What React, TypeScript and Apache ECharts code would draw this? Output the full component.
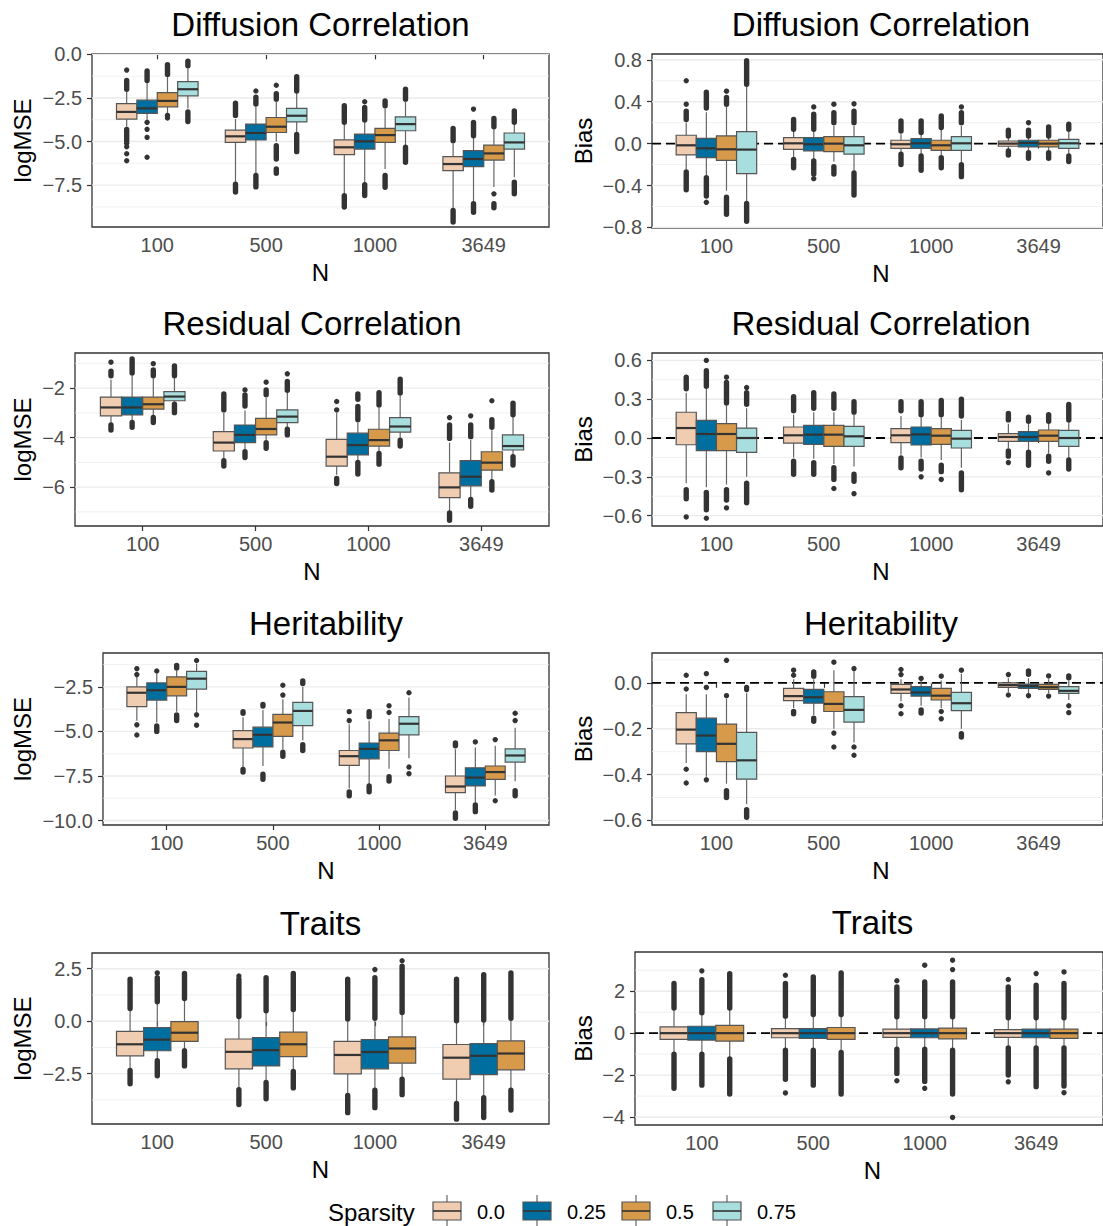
import React, { useEffect, useRef } from "react";
import * as echarts from "echarts";

const categories = ["100", "500", "1000", "3649"];
const sparsityLevels = ["0.0", "0.25", "0.5", "0.75"];
const sparsityColors = ["#F0CCB0", "#006FA0", "#D69A4A", "#A8DEDE"];

type Out = (number | [number, number])[];

// box stats: [lowerWhisker, q1, median, q3, upperWhisker]; rows = sparsity, cols = N
const diffMseStats = [
  [[-4.15, -3.71, -3.3, -2.82, -2.1], [-7.4, -5.05, -4.7, -4.34, -3.7], [-8.0, -5.75, -5.33, -4.9, -4.0], [-8.86, -6.67, -6.29, -5.87, -5.1]],
  [[-3.8, -3.39, -3.1, -2.63, -1.6], [-6.85, -4.91, -4.51, -4.0, -3.0], [-7.43, -5.43, -4.99, -4.57, -3.9], [-8.48, -6.44, -6.0, -5.52, -4.8]],
  [[-3.4, -3.01, -2.67, -2.19, -1.3], [-5.0, -4.48, -4.15, -3.62, -2.7], [-6.57, -5.05, -4.63, -4.25, -3.1], [-7.6, -6.06, -5.68, -5.2, -4.3]],
  [[-3.1, -2.38, -2.0, -1.56, -0.8], [-4.5, -3.87, -3.52, -3.1, -2.2], [-5.2, -4.38, -4.0, -3.58, -2.7], [-7.05, -5.43, -5.05, -4.51, -4.0]],
];
const diffMseOut: Out[][] = [
  [[-0.9, [-2.0, -1.5], [-4.95, -4.3], -5.1, -5.3, -5.7, -6.1], [[-3.5, -2.8], [-7.9, -7.45]], [[-3.9, -2.95], [-8.75, -8.1]], [[-4.95, -4.25], [-9.62, -8.95]]],
  [[[-1.5, -0.95], -3.9, -4.3, -4.76, -5.9], [-2.1, [-2.85, -2.45], [-7.6, -6.95]], [-2.72, [-3.77, -3.05], [-8.1, -7.47]], [-3.14, [-4.67, -3.9], [-9.05, -8.57]]],
  [[[-1.15, -0.6], -3.5, -3.65], [-1.77, [-2.57, -2.25], [-6.0, -5.24], [-6.82, -6.57]], [[-2.95, -2.67], [-7.62, -6.95]], [[-4.15, -3.68], -8.0, [-8.8, -8.57]]],
  [[[-0.65, -0.4], [-3.85, -3.3]], [[-2.1, -1.28], [-5.58, -4.6]], [[-2.57, -2.0], [-6.19, -5.33]], [[-3.9, -3.24], [-8.0, -7.33]]],
];

const diffBiasStats = [
  [[-0.25, -0.108, -0.016, 0.08, 0.2], [-0.13, -0.054, 0.003, 0.057, 0.12], [-0.08, -0.045, -0.006, 0.032, 0.09], [-0.06, -0.025, 0, 0.025, 0.06]],
  [[-0.3, -0.134, -0.045, 0.05, 0.3], [-0.15, -0.07, -0.006, 0.057, 0.12], [-0.1, -0.045, 0.003, 0.048, 0.09], [-0.07, -0.032, 0.006, 0.032, 0.07]],
  [[-0.45, -0.16, -0.054, 0.073, 0.35], [-0.17, -0.076, 0, 0.067, 0.17], [-0.12, -0.064, -0.016, 0.032, 0.13], [-0.07, -0.032, 0, 0.032, 0.07]],
  [[-0.55, -0.287, -0.057, 0.115, 0.55], [-0.26, -0.1, -0.016, 0.067, 0.17], [-0.18, -0.064, 0.003, 0.067, 0.17], [-0.1, -0.045, 0.003, 0.041, 0.11]],
];
const diffBiasOut: Out[][] = [
  [[0.6, 0.376, [0.23, 0.31], [-0.44, -0.27]], [[0.137, 0.23], [-0.23, -0.15]], [[0.12, 0.217], [-0.2, -0.1]], [[0.073, 0.127], [-0.108, -0.07]]],
  [[[0.34, 0.49], [-0.5, -0.325], -0.56], [0.35, [0.137, 0.28], [-0.29, -0.165], -0.334], [[0.105, 0.217], [-0.255, -0.118]], [0.2, [0.073, 0.127], [-0.14, -0.086]]],
  [[0.5, [0.376, 0.44], [-0.675, -0.51]], [0.376, [0.2, 0.296], [-0.29, -0.22]], [[0.153, 0.264], [-0.23, -0.134]], [[0.073, 0.16], [-0.14, -0.086]]],
  [[[0.567, 0.79], [-0.74, -0.57]], [0.38, [0.2, 0.31], [-0.49, -0.28]], [0.35, [0.2, 0.296], [-0.315, -0.2]], [[0.137, 0.185], [-0.17, -0.118]]],
];

const resMseStats = [
  [[-3.45, -3.12, -2.78, -2.36, -1.66], [-4.9, -4.54, -4.2, -3.76, -3.0], [-5.5, -5.15, -4.77, -4.07, -3.0], [-7.0, -6.42, -6.01, -5.42, -4.2]],
  [[-3.3, -3.08, -2.78, -2.36, -1.5], [-4.5, -4.2, -3.89, -3.49, -2.9], [-5.0, -4.7, -4.3, -3.82, -3.4], [-6.4, -5.95, -5.58, -4.93, -4.1]],
  [[-3.1, -2.85, -2.65, -2.36, -1.6], [-4.1, -3.89, -3.65, -3.22, -2.4], [-4.6, -4.34, -4.1, -3.66, -2.8], [-5.7, -5.31, -5.01, -4.57, -3.7]],
  [[-2.6, -2.51, -2.34, -2.14, -1.6], [-3.6, -3.39, -3.15, -2.88, -2.2], [-4.0, -3.78, -3.55, -3.19, -2.3], [-4.8, -4.5, -4.34, -3.89, -3.1]],
];
const resMseOut: Out[][] = [
  [[-0.95, [-1.5, -1.32], [-3.69, -3.49]], [[-2.88, -2.23], [-5.15, -4.93]], [-2.54, -2.88, [-5.85, -5.65]], [-3.19, [-4.03, -3.49], [-7.34, -7.04]]],
  [[[-1.39, -0.82], [-3.58, -3.39]], [-2.07, [-2.72, -2.27], [-4.8, -4.57]], [[-2.45, -2.23], [-3.28, -2.74], [-5.47, -5.0]], [-3.12, [-3.96, -3.49], [-6.77, -6.5]]],
  [[-1.01, [-1.5, -1.26], [-3.39, -3.18]], [-1.76, [-2.27, -2.07], [-4.43, -4.2]], [[-2.68, -2.18], [-5.07, -4.64]], [-2.51, [-3.58, -3.28], [-6.12, -5.78]]],
  [[[-1.5, -1.1], [-2.99, -2.65]], [-1.42, [-2.09, -1.73], [-3.89, -3.66]], [[-2.2, -1.64], [-4.34, -4.1]], [[-3.08, -2.61], [-5.11, -4.77]]],
];

const resBiasStats = [
  [[-0.35, -0.052, 0.077, 0.199, 0.35], [-0.15, -0.039, 0.021, 0.085, 0.18], [-0.13, -0.036, 0.021, 0.072, 0.17], [-0.08, -0.026, 0.008, 0.034, 0.11]],
  [[-0.38, -0.098, 0.031, 0.137, 0.38], [-0.16, -0.049, 0.026, 0.098, 0.2], [-0.15, -0.054, 0.028, 0.085, 0.16], [-0.1, -0.026, 0.008, 0.049, 0.12]],
  [[-0.36, -0.098, 0.031, 0.111, 0.25], [-0.2, -0.064, 0.026, 0.098, 0.2], [-0.17, -0.049, 0.018, 0.072, 0.16], [-0.12, -0.026, 0.018, 0.062, 0.13]],
  [[-0.3, -0.111, 0, 0.077, 0.23], [-0.22, -0.064, 0.013, 0.09, 0.18], [-0.23, -0.077, -0.005, 0.059, 0.14], [-0.16, -0.064, 0, 0.059, 0.13]],
];
const resBiasOut: Out[][] = [
  [[[0.38, 0.47], [-0.47, -0.4], -0.61], [[0.21, 0.32], [-0.28, -0.18]], [[0.21, 0.28], [-0.23, -0.155]], [[0.14, 0.19], [-0.14, -0.1], -0.19]],
  [[0.6, [0.4, 0.52], [-0.555, -0.42], -0.62], [[0.23, 0.35], [-0.28, -0.19]], [[0.18, 0.28], [-0.24, -0.18], -0.3], [[0.13, 0.16], [-0.21, -0.11]]],
  [[0.47, [0.27, 0.43], [-0.48, -0.4], -0.54], [[0.23, 0.34], [-0.32, -0.23], -0.39], [[0.18, 0.29], [-0.26, -0.21], -0.32], [[0.13, 0.18], [-0.18, -0.14], -0.27]],
  [[0.39, [0.26, 0.35], [-0.5, -0.35]], [[0.2, 0.28], [-0.335, -0.28], -0.43], [[0.17, 0.3], [-0.4, -0.27]], [[0.14, 0.26], [-0.24, -0.17]]],
];

const herMseStats = [
  [[-4.4, -3.61, -2.83, -2.5, -1.95], [-7.0, -5.93, -5.43, -4.96, -4.2], [-8.2, -6.91, -6.39, -6.07, -4.6], [-9.4, -8.43, -8.09, -7.5, -6.0]],
  [[-4.5, -3.24, -2.69, -2.28, -1.75], [-6.94, -5.87, -5.19, -4.76, -3.8], [-8.0, -6.54, -5.98, -5.65, -4.4], [-9.0, -8.06, -7.59, -7.04, -5.9]],
  [[-3.9, -3.0, -2.5, -1.94, -1.6], [-6.0, -5.28, -4.5, -4.04, -3.2], [-7.1, -6.07, -5.5, -5.09, -4.3], [-8.6, -7.69, -7.28, -6.94, -5.8]],
  [[-3.9, -2.63, -2.04, -1.63, -1.2], [-5.5, -4.67, -3.85, -3.37, -2.5], [-6.5, -5.19, -4.57, -4.17, -3.1], [-7.8, -6.72, -6.35, -5.98, -4.8]],
];
const herMseOut: Out[][] = [
  [[-1.48, -1.81, -4.63, -5.2], [[-3.98, -3.89], [-7.28, -7.13]], [-3.89, -4.39, [-8.61, -8.39]], [[-5.8, -5.65], [-9.87, -9.57]]],
  [[-1.61, [-5.0, -4.69]], [[-3.57, -3.48], [-7.69, -7.4]], [[-4.17, -3.89], [-8.39, -8.06]], [-5.59, [-9.5, -9.13]]],
  [[[-1.44, -1.3], [-4.39, -4.07]], [-2.41, -2.96, [-6.39, -6.17]], [-3.56, -3.94, [-7.78, -7.54]], [-5.46, -8.89]],
  [[-1.02, -4.07, -4.65], [[-2.31, -2.17], [-6.07, -5.74]], [-2.83, -7.0, -7.37], [-3.98, -4.39, [-8.61, -8.33]]],
];

const herBiasStats = [
  [[-0.35, -0.266, -0.204, -0.13, -0.05], [-0.11, -0.078, -0.058, -0.024, 0.015], [-0.08, -0.046, -0.029, -0.007, 0.015], [-0.04, -0.02, -0.01, 0.0, 0.02]],
  [[-0.41, -0.3, -0.23, -0.154, -0.05], [-0.14, -0.089, -0.063, -0.029, 0.015], [-0.1, -0.058, -0.042, -0.017, 0.01], [-0.045, -0.024, -0.014, -0.006, 0.02]],
  [[-0.44, -0.344, -0.266, -0.18, -0.07], [-0.2, -0.125, -0.092, -0.039, 0.055], [-0.11, -0.075, -0.056, -0.024, 0.01], [-0.045, -0.029, -0.019, -0.007, 0.015]],
  [[-0.53, -0.42, -0.338, -0.216, -0.045], [-0.26, -0.171, -0.118, -0.06, 0.05], [-0.2, -0.121, -0.089, -0.042, 0.04], [-0.075, -0.046, -0.035, -0.017, 0.01]],
];
const herBiasOut: Out[][] = [
  [[0.033, -0.027, -0.377, -0.437], [0.055, 0.033, [-0.135, -0.125]], [0.058, 0.036, -0.1, -0.135], [0.036, -0.053]],
  [[0.04, -0.02, -0.423], [[0.029, 0.047], [-0.168, -0.154]], [0.019, [-0.132, -0.118]], [[0.037, 0.052], -0.056]],
  [[0.098, -0.056, [-0.5, -0.47]], [0.09, -0.219, -0.28], [0.029, -0.125, -0.157], [0.03, -0.058]],
  [[-0.02, -0.03, [-0.586, -0.553]], [0.062, -0.28, -0.316], [0.055, [-0.236, -0.222]], [[0.022, 0.03], -0.1, -0.13]],
];

const traitMseStats = [
  [[-2.32, -1.65, -1.1, -0.49, 0.58], [-3.18, -2.27, -1.46, -0.85, 0.19], [-3.5, -2.51, -1.61, -0.96, 0.08], [-3.89, -2.76, -1.74, -1.11, -0.02]],
  [[-1.85, -1.41, -0.88, -0.31, 0.9], [-2.87, -2.13, -1.38, -0.78, 0.47], [-3.26, -2.27, -1.47, -0.88, 0.11], [-3.57, -2.55, -1.65, -1.07, 0.03]],
  [[-1.38, -0.96, -0.55, -0.02, 1.05], [-2.37, -1.69, -1.1, -0.52, 0.53], [-2.71, -2.0, -1.3, -0.75, 0.38], [-3.26, -2.32, -1.54, -0.94, 0.11]],
];
const traitMseOut: Out[][] = [
  [[[0.6, 2.0], [-2.98, -2.35]], [[0.22, 2.0], 2.15, [-3.97, -3.26]], [[0.11, 2.0], [-4.36, -3.54]], [[0.02, 2.0], [-4.67, -3.92]]],
  [[[0.93, 2.07], 2.3, [-2.6, -1.88]], [[0.5, 2.07], [-3.7, -2.92]], [[0.14, 2.07], 2.46, [-4.12, -3.29]], [[0.06, 2.22], [-4.59, -3.65]]],
  [[[1.08, 2.27], [-2.13, -1.41]], [[0.56, 2.27], [-3.18, -2.4]], [[0.41, 2.62], 2.88, [-3.5, -2.76]], [[0.14, 2.3], [-4.23, -3.29]]],
];

const traitBiasStats = [
  [[-0.97, -0.3, 0, 0.3, 1.17], [-0.78, -0.22, 0, 0.22, 0.78], [-0.73, -0.2, 0, 0.19, 0.75], [-0.68, -0.2, 0, 0.17, 0.7]],
  [[-0.97, -0.33, 0, 0.33, 0.94], [-0.78, -0.25, 0, 0.22, 0.86], [-0.73, -0.22, 0, 0.2, 0.75], [-0.68, -0.22, 0, 0.19, 0.7]],
  [[-1.2, -0.38, 0, 0.37, 1.17], [-0.89, -0.3, 0, 0.27, 0.86], [-0.78, -0.27, 0, 0.24, 0.75], [-0.68, -0.25, 0, 0.19, 0.7]],
];
const traitBiasOut: Out[][] = [
  [[[1.2, 2.37], [-2.63, -1.0]], [[0.81, 2.37], 2.76, [-2.2, -0.81], -2.85], [[0.78, 2.2], 2.5, [-1.92, -0.76], -2.27], [[0.73, 2.2], 2.56, [-2.0, -0.71], -2.32]],
  [[[0.97, 2.55], 2.97, [-2.48, -1.0]], [[0.89, 2.68], [-2.48, -0.81]], [[0.78, 2.44], 3.24, [-2.3, -0.76], -2.63], [[0.73, 2.29], 2.84, [-2.55, -0.71]]],
  [[[1.2, 2.84], [-2.9, -1.23]], [[0.89, 2.87], [-2.9, -0.92]], [[0.78, 2.44], 3.03, 3.48, [-2.9, -0.81], -4.02], [[0.73, 2.37], 2.92, [-2.52, -0.71], -2.84]],
];

// tick values
const diffMseTicks = [0, -2.5, -5, -7.5];
const diffMseMinor = [-1.25, -3.75, -6.25, -8.75];
const diffBiasTicks = [0.8, 0.4, 0, -0.4, -0.8];
const diffBiasMinor = [0.6, 0.2, -0.2, -0.6];
const resMseTicks = [-2, -4, -6];
const resMseMinor = [-1, -3, -5, -7];
const resBiasTicks = [0.6, 0.3, 0, -0.3, -0.6];
const resBiasMinor = [0.45, 0.15, -0.15, -0.45];
const herMseTicks = [-2.5, -5, -7.5, -10];
const herMseMinor = [-1.25, -3.75, -6.25, -8.75];
const herBiasTicks = [0, -0.2, -0.4, -0.6];
const herBiasMinor = [0.1, -0.1, -0.3, -0.5];
const traitMseTicks = [2.5, 0, -2.5];
const traitMseMinor = [1.25, -1.25, -3.75];
const traitBiasTicks = [2, 0, -2, -4];
const traitBiasMinor = [3, 1, -1, -3];

interface Panel {
  title: string;
  yName: string;
  stats: number[][][];
  out: Out[][];
  ticks: number[];
  minor: number[];
  dec: number;
  yMin: number;
  yMax: number;
  zero: boolean;
  box: { left: number; right: number; top: number; bottom: number };
  yNameX: number;
}

const panels: Panel[] = [
  { title: "Diffusion Correlation", yName: "logMSE", stats: diffMseStats, out: diffMseOut, ticks: diffMseTicks, minor: diffMseMinor, dec: 1, yMin: -9.9, yMax: 0.02, zero: false, box: { left: 92, right: 549, top: 54, bottom: 227 }, yNameX: 22 },
  { title: "Diffusion Correlation", yName: "Bias", stats: diffBiasStats, out: diffBiasOut, ticks: diffBiasTicks, minor: diffBiasMinor, dec: 1, yMin: -0.805, yMax: 0.855, zero: true, box: { left: 652, right: 1110, top: 54, bottom: 228 }, yNameX: 583 },
  { title: "Residual Correlation", yName: "logMSE", stats: resMseStats, out: resMseOut, ticks: resMseTicks, minor: resMseMinor, dec: 0, yMin: -7.57, yMax: -0.58, zero: false, box: { left: 75, right: 549, top: 353, bottom: 526 }, yNameX: 22 },
  { title: "Residual Correlation", yName: "Bias", stats: resBiasStats, out: resBiasOut, ticks: resBiasTicks, minor: resBiasMinor, dec: 1, yMin: -0.68, yMax: 0.657, zero: true, box: { left: 652, right: 1110, top: 353, bottom: 526 }, yNameX: 583 },
  { title: "Heritability", yName: "logMSE", stats: herMseStats, out: herMseOut, ticks: herMseTicks, minor: herMseMinor, dec: 1, yMin: -10.25, yMax: -0.6, zero: false, box: { left: 103, right: 549, top: 653, bottom: 825 }, yNameX: 22 },
  { title: "Heritability", yName: "Bias", stats: herBiasStats, out: herBiasOut, ticks: herBiasTicks, minor: herBiasMinor, dec: 1, yMin: -0.62, yMax: 0.13, zero: true, box: { left: 652, right: 1110, top: 653, bottom: 825 }, yNameX: 583 },
  { title: "Traits", yName: "logMSE", stats: traitMseStats, out: traitMseOut, ticks: traitMseTicks, minor: traitMseMinor, dec: 1, yMin: -4.9, yMax: 3.25, zero: false, box: { left: 92, right: 549, top: 953, bottom: 1124 }, yNameX: 22 },
  { title: "Traits", yName: "Bias", stats: traitBiasStats, out: traitBiasOut, ticks: traitBiasTicks, minor: traitBiasMinor, dec: 0, yMin: -4.38, yMax: 3.87, zero: true, box: { left: 635, right: 1110, top: 952, bottom: 1125 }, yNameX: 583 },
];

const FONT = "'Liberation Sans', Arial, Helvetica, sans-serif";
const INK = "#333333";
const EDGE = "#555555";
const WHISK = "#666666";

function fmt(v: number, d: number): string {
  const s = Math.abs(v).toFixed(d);
  return (v < -1e-9 ? "\u2212" : "") + s;
}

const makeBoxRender = (w: number, color: string) => (params: any, api: any) => {
  const x = api.value(0);
  const [xl, yq3] = api.coord([x - w / 2, api.value(4)]);
  const [xr, yq1] = api.coord([x + w / 2, api.value(2)]);
  const [xc, ymed] = api.coord([x, api.value(3)]);
  const ylw = api.coord([x, api.value(1)])[1];
  const yuw = api.coord([x, api.value(5)])[1];
  const ls = { stroke: WHISK, lineWidth: 1.2 };
  return {
    type: "group",
    children: [
      { type: "line", shape: { x1: xc, y1: yuw, x2: xc, y2: yq3 }, style: ls },
      { type: "line", shape: { x1: xc, y1: yq1, x2: xc, y2: ylw }, style: ls },
      { type: "rect", shape: { x: xl, y: yq3, width: xr - xl, height: yq1 - yq3 }, style: { fill: color, stroke: EDGE, lineWidth: 1.2 } },
      { type: "line", shape: { x1: xl, y1: ymed, x2: xr, y2: ymed }, style: { stroke: INK, lineWidth: 2.2 } },
    ],
  };
};

const outRender = (params: any, api: any) => {
  const x = api.value(0);
  const [cx, yTop] = api.coord([x, api.value(2)]);
  const yBot = api.coord([x, api.value(1)])[1];
  const r = 2.7;
  if (Math.abs(yBot - yTop) < 0.5) {
    return { type: "circle", shape: { cx, cy: yTop, r }, style: { fill: INK } };
  }
  return { type: "rect", shape: { x: cx - r, y: yTop - r, width: 2 * r, height: yBot - yTop + 2 * r, r }, style: { fill: INK } };
};

const gridRender = (params: any, api: any) => {
  const cs = params.coordSys;
  const y = api.coord([1, api.value(0)])[1];
  const kind = api.value(1);
  const style =
    kind === 0
      ? { stroke: "#EBEBEB", lineWidth: 1.4 }
      : kind === 1
      ? { stroke: "#EBEBEB", lineWidth: 0.7 }
      : { stroke: "#000000", lineWidth: 1.8, lineDash: [9, 5] };
  return { type: "line", shape: { x1: cs.x, y1: y, x2: cs.x + cs.width, y2: y }, style };
};

function buildOption() {
  const grid: any[] = [];
  const xAxis: any[] = [];
  const yAxis: any[] = [];
  const series: any[] = [];
  const graphic: any[] = [];

  panels.forEach((p, pi) => {
    const b = p.box;
    grid.push({ left: b.left, top: b.top, width: b.right - b.left, height: b.bottom - b.top, show: true, borderColor: INK, borderWidth: 1.3, backgroundColor: "#FFFFFF" });
    xAxis.push({
      type: "value", gridIndex: pi, min: 0.4, max: 4.6,
      splitLine: { show: false }, axisLine: { show: false },
      axisTick: { show: true, customValues: [1, 2, 3, 4], length: 5, lineStyle: { color: INK, width: 1.2 } },
      axisLabel: { customValues: [1, 2, 3, 4], formatter: (v: number) => categories[Math.round(v) - 1], fontSize: 20, color: "#4D4D4D", margin: 8, fontFamily: FONT },
    });
    yAxis.push({
      type: "value", gridIndex: pi, min: p.yMin, max: p.yMax,
      splitLine: { show: false }, axisLine: { show: false },
      axisTick: { show: true, customValues: p.ticks, length: 5, lineStyle: { color: INK, width: 1.2 } },
      axisLabel: { customValues: p.ticks, formatter: (v: number) => fmt(v, p.dec), fontSize: 20, color: "#4D4D4D", margin: 10, fontFamily: FONT },
    });

    const gl: number[][] = [...p.minor.map((v) => [v, 1]), ...p.ticks.map((v) => [v, 0])];
    series.push({ type: "custom", xAxisIndex: pi, yAxisIndex: pi, z: 1, silent: true, renderItem: gridRender, data: gl, clip: false });
    if (p.zero) {
      series.push({ type: "custom", xAxisIndex: pi, yAxisIndex: pi, z: 2, silent: true, renderItem: gridRender, data: [[0, 2]], clip: false });
    }

    const n = p.stats.length;
    const w = 0.75 / n;
    p.stats.forEach((rows, j) => {
      const off = (j - (n - 1) / 2) * w;
      series.push({
        type: "custom", name: sparsityLevels[j], xAxisIndex: pi, yAxisIndex: pi, z: 3, clip: false,
        renderItem: makeBoxRender(w, sparsityColors[j]),
        data: rows.map((s, i) => [i + 1 + off, ...s]),
      });
      const od: number[][] = [];
      p.out[j].forEach((list, i) => {
        list.forEach((o) => {
          if (Array.isArray(o)) od.push([i + 1 + off, o[0], o[1]]);
          else od.push([i + 1 + off, o, o]);
        });
      });
      series.push({ type: "custom", xAxisIndex: pi, yAxisIndex: pi, z: 4, clip: false, renderItem: outRender, data: od });
    });

    const cx = (b.left + b.right) / 2;
    graphic.push({ type: "text", x: cx, y: b.top - 30, style: { text: p.title, fontSize: 33, fontFamily: FONT, fill: "#000", align: "center", verticalAlign: "middle" } });
    graphic.push({ type: "text", x: cx, y: b.bottom + 45, style: { text: "N", fontSize: 24, fontFamily: FONT, fill: "#000", align: "center", verticalAlign: "middle" } });
    graphic.push({ type: "text", x: p.yNameX, y: (b.top + b.bottom) / 2, rotation: Math.PI / 2, style: { text: p.yName, fontSize: 24, fontFamily: FONT, fill: "#000", align: "center", verticalAlign: "middle" } });
  });

  // legend
  const legendBoxX = [433, 523, 622, 713];
  graphic.push({ type: "text", x: 328, y: 1212, style: { text: "Sparsity", fontSize: 24, fontFamily: FONT, fill: "#000", align: "left", verticalAlign: "middle" } });
  sparsityLevels.forEach((lab, k) => {
    const bx = legendBoxX[k];
    graphic.push({ type: "line", shape: { x1: bx + 14, y1: 1195, x2: bx + 14, y2: 1202 }, style: { stroke: WHISK, lineWidth: 1.2 } });
    graphic.push({ type: "line", shape: { x1: bx + 14, y1: 1220, x2: bx + 14, y2: 1227 }, style: { stroke: WHISK, lineWidth: 1.2 } });
    graphic.push({ type: "rect", shape: { x: bx, y: 1202, width: 28, height: 18 }, style: { fill: sparsityColors[k], stroke: EDGE, lineWidth: 1.2 } });
    graphic.push({ type: "line", shape: { x1: bx, y1: 1211, x2: bx + 28, y2: 1211 }, style: { stroke: INK, lineWidth: 1.6 } });
    graphic.push({ type: "text", x: bx + 44, y: 1212, style: { text: lab, fontSize: 20, fontFamily: FONT, fill: "#000", align: "left", verticalAlign: "middle" } });
  });

  return {
    animation: false,
    backgroundColor: "#FFFFFF",
    textStyle: { fontFamily: FONT },
    grid, xAxis, yAxis, series, graphic,
  };
}

export default function App() {
  const ref = useRef<HTMLDivElement>(null);
  useEffect(() => {
    const chart = echarts.init(ref.current!, null, { renderer: "svg" });
    chart.setOption(buildOption() as any);
    return () => chart.dispose();
  }, []);
  return <div ref={ref} style={{ position: "absolute", left: 0, top: 0, width: 1103, height: 1226, background: "#fff" }} />;
}
